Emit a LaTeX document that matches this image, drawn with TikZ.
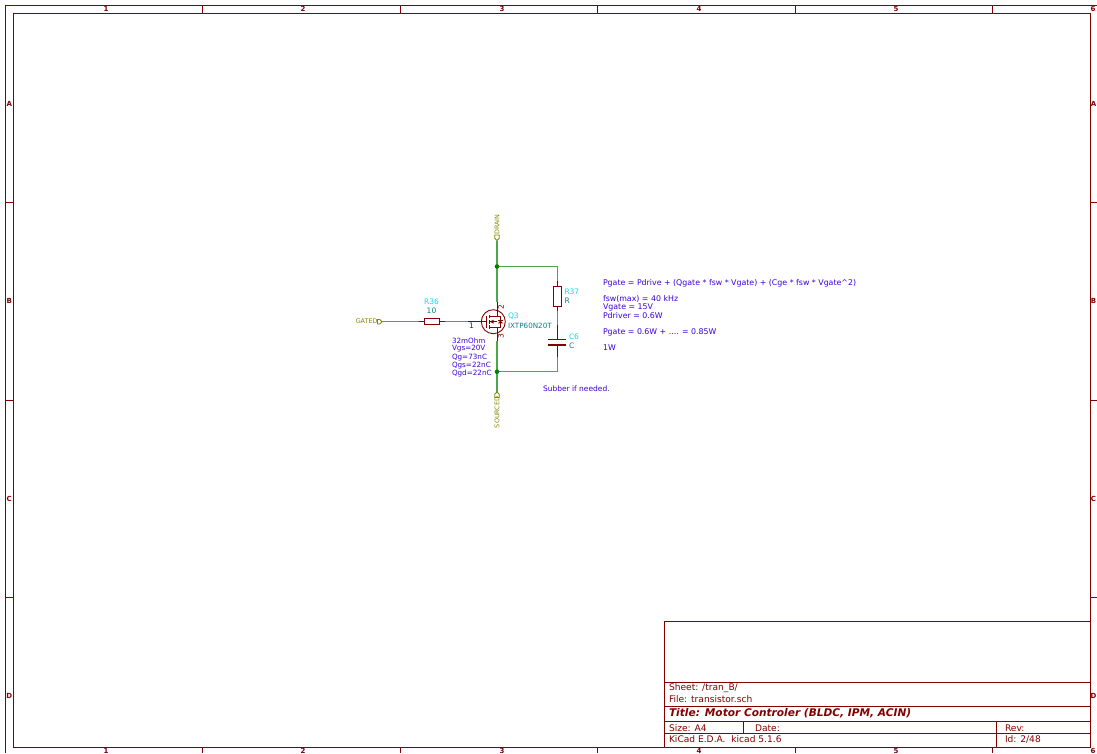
\documentclass[tikz,border=0pt]{standalone}
\usepackage{fontspec}
\setmainfont{DejaVu Sans}
\definecolor{kframe}{HTML}{840000}
\definecolor{kwire}{HTML}{4CA64C}
\definecolor{kjunc}{HTML}{008000}
\definecolor{kpin}{HTML}{840000}
\definecolor{knote}{HTML}{3C00D8}
\definecolor{kref}{HTML}{10D8E8}
\definecolor{kval}{HTML}{008484}
\definecolor{kport}{HTML}{848400}
\tikzset{
  x=1pt,y=-1pt,
  every node/.style={inner sep=0pt,outer sep=0pt},
  frameline/.style={draw=kframe,line width=0.9pt},
  ticklabel/.style={text=kframe,font=\fontsize{7}{8}\selectfont\bfseries},
  tb/.style={text=kframe,anchor=west,font=\fontsize{9.1}{10}\selectfont},
  titletxt/.style={text=kframe,anchor=west,font=\fontsize{10.6}{12}\selectfont\bfseries\itshape},
  wire/.style={draw=kwire,line width=1.5pt},
  pinline/.style={draw=kpin,line width=0.8pt},
  body/.style={draw=kpin,line width=1pt,fill=white,rectangle,anchor=center},
  plate/.style={draw=kpin,line width=1.6pt},
  junction/.style={circle,fill=kjunc,minimum size=4.6pt},
  note/.style={text=knote,anchor=west,font=\fontsize{7.85}{9}\selectfont},
  smallnote/.style={text=knote,anchor=west,font=\fontsize{7.2}{8}\selectfont},
  refl/.style={text=kref,font=\fontsize{7.5}{8}\selectfont},
  vall/.style={text=kval,font=\fontsize{7.5}{8}\selectfont},
  portl/.style={text=kport,font=\fontsize{6.4}{8}\selectfont},
  portshape/.style={draw=kport,line width=0.8pt,fill=white},
  pinnum/.style={text=kpin,font=\fontsize{7.5}{8}\selectfont}
}
\begin{document}
\begin{tikzpicture}
\useasboundingbox (0,0) rectangle (1097,753);
% sheet frame
\draw[frameline] (5.5,753) -- (5.5,5.5) -- (1097,5.5);
\draw[frameline] (13,13) rectangle (1090,747);
\foreach \x in {202,400,597,795,992}{
  \draw[frameline] (\x,5.5) -- (\x,13);
  \draw[frameline] (\x,747) -- (\x,753);
}
\foreach \y in {202,400,597}{
  \draw[frameline] (5.5,\y) -- (13,\y);
  \draw[frameline] (1090,\y) -- (1097,\y);
}
\foreach \x/\t in {106/1,303/2,502/3,699/4,896/5,1093/6}{
  \node[ticklabel] (top\t) at (\x,9) {\t};
  \node[ticklabel] (bot\t) at (\x,750.5) {\t};
}
\foreach \y/\t in {104/A,301/B,499/C,696/D}{
  \node[ticklabel] (left\t) at (9.3,\y) {\t};
  \node[ticklabel] (right\t) at (1093.5,\y) {\t};
}
% title block
\draw[frameline] (664.5,747) -- (664.5,621) -- (1090,621);
\draw[frameline] (664.5,682) -- (1090,682);
\draw[frameline] (664.5,706) -- (1090,706);
\draw[frameline] (664.5,721.5) -- (1090,721.5);
\draw[frameline] (664.5,733.5) -- (1090,733.5);
\draw[frameline] (743.5,721.5) -- (743.5,733.5);
\draw[frameline] (996,721.5) -- (996,747);
\node[tb] (tsheet) at (669,688) {Sheet: /tran\_B/};
\node[tb] (tfile) at (669,699) {File: transistor.sch};
\node[titletxt] (ttitle) at (669,713.5) {Title: Motor Controler (BLDC, IPM, ACIN)};
\node[tb] (tsize) at (669,728) {Size: A4};
\node[tb] (tdate) at (755,728) {Date:};
\node[tb] (trev) at (1005,728) {Rev:};
\node[tb] (tkicad) at (669,739.5) {KiCad E.D.A.\ \ kicad 5.1.6};
\node[tb] (tid) at (1005,739.5) {Id: 2/48};
% named points
\coordinate (drainport) at (497,240.5);
\coordinate (jtop) at (497,266.5);
\coordinate (jbot) at (497,371.7);
\coordinate (qd) at (497,302);
\coordinate (qs) at (497,341);
\coordinate (sourceport) at (497,392);
\coordinate (gateport) at (382,321.7);
\coordinate (qg) at (468,321.7);
\coordinate (rtr) at (557.3,266.5);
\coordinate (rbr) at (557.3,371.7);
\coordinate (r37t) at (557.3,281);
\coordinate (r37b) at (557.3,311);
\coordinate (c6t) at (557.3,325);
\coordinate (c6b) at (557.3,357);
\coordinate (r36l) at (418.5,321.7);
\coordinate (r36r) at (445,321.7);
% wires
\draw[wire] (drainport) -- (jtop) -- (qd);
\draw[wire] (qs) -- (jbot) -- (sourceport);
\draw[wire] (jtop) -- (rtr) -- (r37t);
\draw[wire] (r37b) -- (c6t);
\draw[wire] (c6b) -- (rbr) -- (jbot);
\draw[wire] (gateport) -- (r36l);
\draw[wire] (r36r) -- (qg);
\node[junction] (j1) at (jtop) {};
\node[junction] (j2) at (jbot) {};
% ports
\draw[portshape] (drainport) -- ++(-2.2,-2.2) -- ++(0,-3.3) -- ++(4.4,0) -- ++(0,3.3) -- cycle;
\draw[portshape] (sourceport) -- ++(-2.2,2.2) -- ++(0,3.3) -- ++(4.4,0) -- ++(0,-3.3) -- cycle;
\draw[portshape] (gateport) -- ++(-2.2,-2.2) -- ++(-2.3,0) -- ++(0,4.4) -- ++(2.3,0) -- cycle;
\node[portl,rotate=90,anchor=west] (ldrain) at (497,234.5) {DRAIN};
\node[portl,rotate=90,anchor=west] (lsource) at (497,428) {SOURCED};
\node[portl,anchor=east] (lgate) at (377.5,321.5) {GATED};
% R36
\draw[pinline] (r36l) -- (r36r);
\node[body,minimum width=15pt,minimum height=6.3pt] (r36) at (431.8,321.8) {};
\node[refl] (r36ref) at (431.5,301.5) {R36};
\node[vall] (r36val) at (431.5,310.5) {10};
% R37
\draw[pinline] (r37t) -- (r37b);
\node[body,minimum width=8pt,minimum height=20.5pt] (r37) at (557.3,296.5) {};
\node[refl,anchor=west] (r37ref) at (564.5,292) {R37};
\node[vall,anchor=west] (r37val) at (564.5,301) {R};
% C6
\draw[pinline] (c6t) -- (557.3,339.3);
\draw[pinline] (557.3,345) -- (c6b);
\draw[plate] (548,339.3) -- (566,339.3);
\draw[plate] (548,345) -- (566,345);
\node[refl,anchor=west] (c6ref) at (569,337) {C6};
\node[vall,anchor=west] (c6val) at (569,346) {C};
% Q3
\node[circle,draw=kpin,line width=0.9pt,minimum size=24pt] (q3) at (493.3,321.7) {};
\draw[pinline] (qd) -- (497,316.3) -- (489.5,316.3);
\draw[pinline] (qs) -- (497,327.2) -- (489.5,327.2);
\draw[pinline] (489.5,321.7) -- (497,321.7);
\draw[pinline] (qg) -- (486.8,321.7);
\draw[pinline] (486.8,316) -- (486.8,327.5);
\draw[draw=kpin,line width=1.1pt] (489.3,314.5) -- (489.3,318.2);
\draw[draw=kpin,line width=1.1pt] (489.3,320) -- (489.3,323.5);
\draw[draw=kpin,line width=1.1pt] (489.3,325.4) -- (489.3,329);
\fill[kpin] (489.8,321.7) -- (493.5,319.8) -- (493.5,323.6) -- cycle;
\draw[pinline] (500.5,316.3) -- (500.5,327.2);
\draw[pinline] (497,316.3) -- (500.5,316.3);
\draw[pinline] (497,327.2) -- (500.5,327.2);
\fill[kpin] (500.5,320.4) -- (503,323.3) -- (498,323.3) -- cycle;
\draw[pinline] (498,320.4) -- (503,320.4);
\node[pinnum] (p1) at (471.5,325.5) {1};
\node[pinnum,rotate=90] (p2) at (501,307) {2};
\node[pinnum,rotate=90] (p3) at (501,336.5) {3};
\node[refl,anchor=west] (q3ref) at (508,316.5) {Q3};
\node[vall,anchor=west,font=\fontsize{7.2}{8}\selectfont] (q3val) at (508,326) {IXTP60N20T};
% notes
\node[smallnote] (n1) at (452,341) {32mOhm};
\node[smallnote] (n2) at (452,349) {Vgs=20V};
\node[smallnote] (n3) at (452,357.5) {Qg=73nC};
\node[smallnote] (n4) at (452,365.5) {Qgs=22nC};
\node[smallnote] (n5) at (452,373.5) {Qgd=22nC};
\node[smallnote,font=\fontsize{7.5}{8}\selectfont] (n6) at (543,388.5) {Subber if needed.};
\node[note] (m1) at (603,283.5) {Pgate = Pdrive + (Qgate * fsw * Vgate) + (Cge * fsw * Vgate\textasciicircum 2)};
\node[note] (m2) at (603,299.5) {fsw(max) = 40 kHz};
\node[note] (m3) at (603,307.5) {Vgate = 15V};
\node[note] (m4) at (603,315.5) {Pdriver = 0.6W};
\node[note] (m5) at (603,332) {Pgate = 0.6W + .... = 0.85W};
\node[note] (m6) at (603,348) {1W};
\end{tikzpicture}
\end{document}
